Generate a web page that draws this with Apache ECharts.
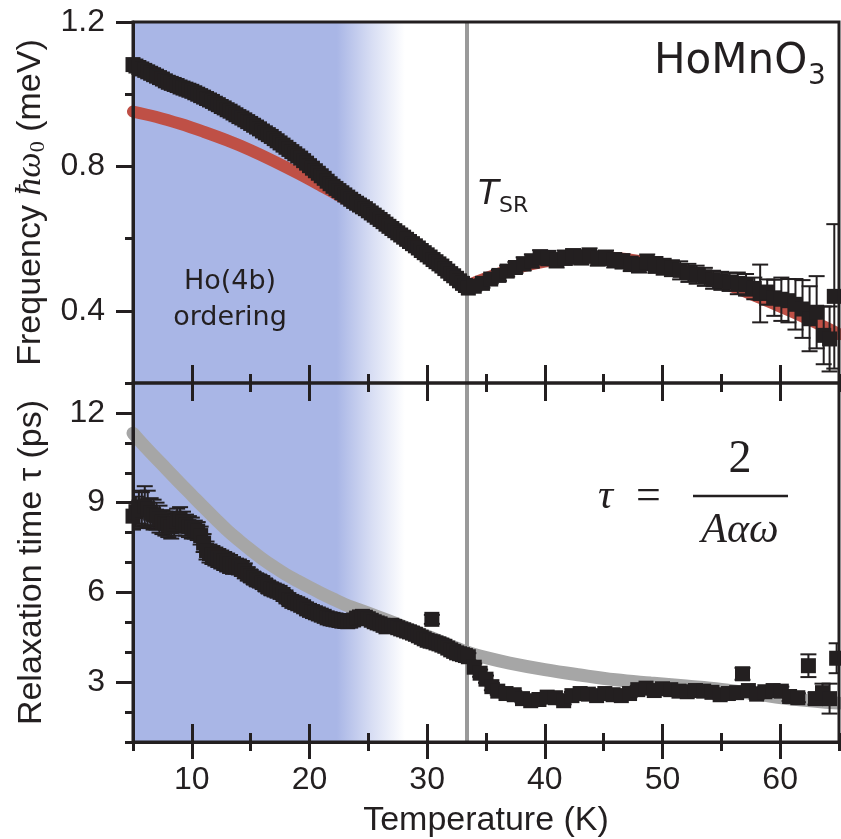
<!DOCTYPE html>
<html>
<head>
<meta charset="utf-8">
<title>HoMnO3 frequency and relaxation time</title>
<script src="https://cdn.jsdelivr.net/npm/echarts@6/dist/echarts.min.js"></script>
<style>
  html, body { margin: 0; padding: 0; background: #fff; }
  #chart { width: 841px; height: 839px; }
</style>
</head>
<body>
<div id="chart"></div>
<script>
// ---- axis ticks ----
var tempTicks = [10, 20, 30, 40, 50, 60]
var tempMinorTicks = [5, 15, 25, 35, 45, 55, 65]
var freqTicks = [0.4, 0.8, 1.2]
var freqMinorTicks = [0.2, 0.6, 1.0]
var tauTicks = [3, 6, 9, 12]
var tauMinorTicks = [1, 2, 4, 5, 7, 8, 10, 11, 13]

// spin reorientation temperature and Ho(4b) ordering region (K)
var tSR = 33.4
var orderingFrom = 5
var orderingTo = 28.1

// ---- top panel: frequency (meV) ----
var freqTemp = [
  5.00, 5.25, 5.50, 5.75, 6.00, 6.25, 6.50, 6.75, 7.00, 7.25, 7.50, 7.75, 8.00, 8.25, 8.50, 8.75,
  9.00, 9.25, 9.50, 9.75, 10.00, 10.25, 10.50, 10.75, 11.00, 11.25, 11.50, 11.75, 12.00, 12.25, 12.50, 12.75,
  13.00, 13.25, 13.50, 13.75, 14.00, 14.25, 14.50, 14.75, 15.00, 15.25, 15.50, 15.75, 16.00, 16.25, 16.50, 16.75,
  17.00, 17.25, 17.50, 17.75, 18.00, 18.25, 18.50, 18.75, 19.00, 19.25, 19.50, 19.75, 20.00, 20.25, 20.50, 20.75,
  21.00, 21.25, 21.50, 21.75, 22.00, 22.25, 22.50, 22.75, 23.00, 23.25, 23.50, 23.75, 24.00, 24.25, 24.50, 24.75,
  25.00, 25.25, 25.50, 25.75, 26.00, 26.25, 26.50, 26.75, 27.00, 27.25, 27.50, 27.75, 28.00, 28.25, 28.50, 28.75,
  29.00, 29.25, 29.50, 29.75, 30.00, 30.25, 30.50, 30.75, 31.00, 31.25, 31.50, 31.75, 32.00, 32.25, 32.50, 32.75,
  33.00, 33.25, 33.50,
  34.0, 34.7, 35.4, 36.1, 36.8, 37.5, 38.2, 38.9, 39.6, 40.3, 41.0, 41.7, 42.4, 43.1, 43.8, 44.5,
  45.2, 45.9, 46.6, 47.3, 48.0, 48.7, 49.4, 50.1, 50.8, 51.5, 52.2, 52.9, 53.6, 54.3, 55.0, 55.7,
  56.4, 57.1, 57.8, 58.3, 58.9, 59.5, 60.1, 60.7, 61.3, 61.9, 62.5, 63.1, 63.7, 64.2, 64.6]
var freqVal = [
  1.082, 1.078, 1.074, 1.070, 1.066, 1.062, 1.058, 1.054, 1.050, 1.046, 1.042, 1.037, 1.033, 1.030, 1.027, 1.024,
  1.020, 1.017, 1.014, 1.011, 1.008, 1.004, 1.000, 0.996, 0.992, 0.988, 0.984, 0.980, 0.975, 0.971, 0.966, 0.962,
  0.957, 0.953, 0.948, 0.943, 0.938, 0.934, 0.929, 0.924, 0.919, 0.914, 0.909, 0.904, 0.898, 0.893, 0.888, 0.883,
  0.877, 0.871, 0.865, 0.859, 0.853, 0.847, 0.841, 0.835, 0.829, 0.823, 0.816, 0.809, 0.802, 0.795, 0.788, 0.781,
  0.774, 0.767, 0.759, 0.752, 0.745, 0.739, 0.733, 0.727, 0.721, 0.715, 0.709, 0.703, 0.698, 0.693, 0.688, 0.683,
  0.677, 0.671, 0.665, 0.659, 0.653, 0.647, 0.640, 0.634, 0.628, 0.622, 0.616, 0.610, 0.604, 0.598, 0.592, 0.586,
  0.580, 0.574, 0.567, 0.561, 0.555, 0.549, 0.542, 0.536, 0.530, 0.524, 0.517, 0.510, 0.503, 0.497, 0.490, 0.483,
  0.476, 0.470, 0.463,
  0.468, 0.476, 0.488, 0.498, 0.510, 0.520, 0.530, 0.538, 0.548, 0.546, 0.540, 0.547, 0.551, 0.548, 0.553, 0.545,
  0.547, 0.540, 0.537, 0.530, 0.526, 0.534, 0.527, 0.522, 0.518, 0.512, 0.505, 0.500, 0.494, 0.486, 0.483, 0.480,
  0.476, 0.472, 0.462, 0.448, 0.452, 0.436, 0.432, 0.428, 0.418, 0.405, 0.378, 0.396, 0.332, 0.322, 0.440]
var freqErr = [
  0.008, 0.008, 0.008, 0.008, 0.008, 0.008, 0.008, 0.008, 0.008, 0.008, 0.008, 0.008, 0.008, 0.008, 0.008, 0.008,
  0.008, 0.008, 0.008, 0.008, 0.008, 0.008, 0.008, 0.008, 0.008, 0.008, 0.008, 0.008, 0.008, 0.008, 0.008, 0.008,
  0.008, 0.008, 0.008, 0.008, 0.008, 0.008, 0.008, 0.008, 0.008, 0.008, 0.008, 0.008, 0.008, 0.008, 0.008, 0.008,
  0.008, 0.008, 0.008, 0.008, 0.008, 0.008, 0.008, 0.008, 0.008, 0.008, 0.008, 0.008, 0.008, 0.008, 0.008, 0.008,
  0.008, 0.008, 0.008, 0.008, 0.008, 0.008, 0.008, 0.008, 0.008, 0.008, 0.008, 0.008, 0.008, 0.008, 0.008, 0.008,
  0.008, 0.008, 0.008, 0.008, 0.008, 0.008, 0.008, 0.008, 0.008, 0.008, 0.008, 0.008, 0.008, 0.008, 0.008, 0.008,
  0.008, 0.008, 0.008, 0.008, 0.008, 0.008, 0.008, 0.008, 0.008, 0.008, 0.008, 0.008, 0.008, 0.008, 0.008, 0.008,
  0.010, 0.010, 0.010,
  0.012, 0.012, 0.012, 0.015, 0.015, 0.015, 0.018, 0.018, 0.020, 0.020, 0.020, 0.020, 0.020, 0.020, 0.020, 0.020,
  0.020, 0.020, 0.020, 0.020, 0.020, 0.022, 0.022, 0.022, 0.022, 0.025, 0.025, 0.025, 0.025, 0.025, 0.025, 0.025,
  0.030, 0.030, 0.030, 0.080, 0.035, 0.050, 0.060, 0.060, 0.070, 0.080, 0.090, 0.100, 0.080, 0.090, 0.200]

// fit (red band), below and above T_SR
var freqFitLowTemp = [5, 7, 9, 11, 13, 15, 17, 19, 21, 23, 25, 27, 29, 31, 33.4]
var freqFitLowVal = [0.952, 0.937, 0.918, 0.896, 0.872, 0.845, 0.814, 0.781, 0.746, 0.710, 0.672, 0.630, 0.585, 0.535, 0.470]
var freqFitHighTemp = [33.4, 36, 38, 40, 42, 44, 46, 48, 50, 52, 54, 56, 58, 60, 62, 64, 65]
var freqFitHighVal = [0.470, 0.502, 0.522, 0.536, 0.545, 0.548, 0.546, 0.538, 0.526, 0.510, 0.490, 0.466, 0.440, 0.412, 0.383, 0.352, 0.335]

// ---- bottom panel: relaxation time (ps) ----
var tauTemp = [
  5.00, 5.25, 5.50, 5.75, 6.00, 6.25, 6.50, 6.75, 7.00, 7.25, 7.50, 7.75, 8.00, 8.25, 8.50, 8.75,
  9.00, 9.25, 9.50, 9.75, 10.00, 10.25, 10.50, 10.75, 11.00, 11.25, 11.50, 11.75, 12.00, 12.25, 12.50, 12.75,
  13.00, 13.25, 13.50, 13.75, 14.00, 14.25, 14.50, 14.75, 15.00, 15.25, 15.50, 15.75, 16.00, 16.25, 16.50, 16.75,
  17.00, 17.25, 17.50, 17.75, 18.00, 18.25, 18.50, 18.75, 19.00, 19.25, 19.50, 19.75, 20.00, 20.25, 20.50, 20.75,
  21.00, 21.25, 21.50, 21.75, 22.00, 22.25, 22.50, 22.75, 23.00, 23.25, 23.50, 23.75, 24.00, 24.25, 24.50, 24.75,
  25.00, 25.25, 25.50, 25.75, 26.00, 26.25, 26.50, 26.75, 27.00, 27.25, 27.50, 27.75, 28.00, 28.25, 28.50, 28.75,
  29.00, 29.25, 29.50, 29.75, 30.00, 30.25, 30.40, 30.50, 30.75, 31.00, 31.25, 31.50, 31.75, 32.00, 32.25, 32.50,
  32.75, 33.00, 33.25, 33.50,
  34.0, 34.5, 35.0, 35.5, 36.0, 36.7, 37.4, 38.1, 38.8, 39.5, 40.2, 40.9, 41.6, 42.3, 43.0, 43.7,
  44.4, 45.1, 45.8, 46.5, 47.2, 47.9, 48.6, 49.3, 50.0, 50.7, 51.4, 52.1, 52.8, 53.5, 54.2, 54.9,
  55.6, 56.3, 56.8, 57.3, 58.0, 58.7, 59.4, 60.1, 60.8, 61.5, 62.4, 63.0, 63.6, 64.2, 64.8]
var tauVal = [
  8.55, 8.70, 8.85, 8.75, 8.90, 8.80, 8.65, 8.60, 8.55, 8.45, 8.35, 8.30, 8.25, 8.20, 8.30, 8.40,
  8.45, 8.35, 8.25, 8.20, 8.15, 8.10, 8.05, 7.90, 7.65, 7.40, 7.30, 7.25, 7.20, 7.15, 7.10, 7.05,
  7.00, 6.95, 6.90, 6.88, 6.85, 6.80, 6.72, 6.62, 6.55, 6.48, 6.42, 6.38, 6.33, 6.25, 6.18, 6.12,
  6.08, 6.04, 6.00, 5.93, 5.85, 5.76, 5.70, 5.66, 5.62, 5.57, 5.52, 5.45, 5.40, 5.36, 5.32, 5.28,
  5.24, 5.20, 5.15, 5.12, 5.10, 5.08, 5.06, 5.04, 5.03, 5.02, 5.04, 5.08, 5.14, 5.18, 5.20, 5.17,
  5.12, 5.07, 5.02, 4.98, 4.95, 4.90, 4.85, 4.88, 4.90, 4.86, 4.82, 4.78, 4.75, 4.71, 4.68, 4.64,
  4.60, 4.55, 4.50, 4.45, 4.40, 4.37, 5.10, 4.35, 4.31, 4.28, 4.24, 4.20, 4.14, 4.08, 4.03, 3.98,
  3.95, 3.92, 3.89, 3.85,
  3.50, 3.30, 3.10, 2.85, 2.70, 2.62, 2.58, 2.45, 2.38, 2.42, 2.50, 2.48, 2.38, 2.55, 2.62, 2.60,
  2.55, 2.62, 2.58, 2.55, 2.62, 2.75, 2.80, 2.72, 2.78, 2.75, 2.70, 2.68, 2.72, 2.70, 2.66, 2.58,
  2.62, 2.65, 3.28, 2.72, 2.60, 2.68, 2.72, 2.70, 2.52, 2.48, 3.55, 2.45, 2.65, 2.45, 3.80]
var tauErr = [
  0.45, 0.50, 0.55, 0.60, 0.65, 0.60, 0.50, 0.50, 0.45, 0.45, 0.40, 0.40, 0.40, 0.40, 0.40, 0.40,
  0.40, 0.35, 0.35, 0.35, 0.35, 0.30, 0.30, 0.30, 0.30, 0.30, 0.30, 0.30, 0.30, 0.30, 0.30, 0.30,
  0.30, 0.30, 0.28, 0.25, 0.25, 0.25, 0.25, 0.22, 0.20, 0.20, 0.20, 0.20, 0.20, 0.20, 0.20, 0.20,
  0.18, 0.18, 0.15, 0.15, 0.15, 0.15, 0.15, 0.15, 0.15, 0.15, 0.15, 0.15, 0.12, 0.12, 0.12, 0.12,
  0.12, 0.12, 0.12, 0.12, 0.10, 0.10, 0.10, 0.10, 0.10, 0.10, 0.10, 0.10, 0.10, 0.10, 0.10, 0.10,
  0.10, 0.10, 0.10, 0.12, 0.12, 0.15, 0.15, 0.15, 0.15, 0.15, 0.15, 0.12, 0.12, 0.12, 0.12, 0.12,
  0.12, 0.12, 0.12, 0.12, 0.12, 0.12, 0.15, 0.12, 0.12, 0.12, 0.12, 0.12, 0.12, 0.12, 0.12, 0.12,
  0.12, 0.12, 0.12, 0.12,
  0.12, 0.12, 0.12, 0.12, 0.12, 0.12, 0.12, 0.12, 0.12, 0.12, 0.12, 0.12, 0.12, 0.12, 0.12, 0.12,
  0.12, 0.12, 0.12, 0.12, 0.12, 0.12, 0.12, 0.12, 0.12, 0.12, 0.12, 0.12, 0.12, 0.12, 0.12, 0.12,
  0.12, 0.12, 0.20, 0.12, 0.15, 0.15, 0.15, 0.15, 0.15, 0.15, 0.38, 0.20, 0.30, 0.50, 0.50]

// tau = 2 / (A alpha omega) (grey band)
var tauFitTemp = [5, 6, 7, 8, 9, 10, 11, 12, 13, 14, 15, 16, 17, 18, 19, 20, 21, 22, 23, 24, 26, 28, 30, 32, 33.4,
  35, 37, 40, 43, 46, 49, 52, 55, 58, 61, 65]
var tauFitVal = [11.32, 10.88, 10.47, 10.06, 9.65, 9.25, 8.85, 8.46, 8.08, 7.74, 7.42, 7.12, 6.85, 6.60, 6.38, 6.17,
  5.97, 5.78, 5.60, 5.45, 5.16, 4.86, 4.54, 4.22, 4.00,
  3.82, 3.64, 3.42, 3.24, 3.08, 2.97, 2.87, 2.76, 2.60, 2.44, 2.30]

var ink = '#231f20'
var sans = 'Liberation Sans'

function pairs(xs, ys) {
  return xs.map(function (x, i) { return [x, ys[i]] })
}

function errorBars(xIdx, yIdx, xs, ys, es) {
  return {
    type: 'custom',
    xAxisIndex: xIdx,
    yAxisIndex: yIdx,
    z: 4,
    silent: true,
    clip: true,
    data: xs.map(function (x, i) { return [x, ys[i] - es[i], ys[i] + es[i]] }),
    encode: { x: 0, y: [1, 2] },
    renderItem: function (params, api) {
      var lo = api.coord([api.value(0), api.value(1)])
      var hi = api.coord([api.value(0), api.value(2)])
      var hw = 8
      var st = { stroke: ink, lineWidth: 2 }
      return {
        type: 'group',
        children: [
          { type: 'line', shape: { x1: lo[0], y1: lo[1], x2: hi[0], y2: hi[1] }, style: st },
          { type: 'line', shape: { x1: lo[0] - hw, y1: lo[1], x2: lo[0] + hw, y2: lo[1] }, style: st },
          { type: 'line', shape: { x1: hi[0] - hw, y1: hi[1], x2: hi[0] + hw, y2: hi[1] }, style: st }
        ]
      }
    }
  }
}

// one x axis = one set of ticks; several stacked to get crossing major/minor ticks
function tempAxis(grid, pos, ticks, len, inside, extra) {
  var ax = {
    type: 'value', gridIndex: grid, position: pos, min: 5, max: 65, z: 10,
    splitLine: { show: false },
    axisLine: { show: false },
    axisLabel: { show: false },
    axisTick: { show: true, inside: inside, length: len, customValues: ticks,
      lineStyle: { color: ink, width: 3 } }
  }
  return Object.assign(ax, extra || {})
}

function valueAxis(grid, min, max, ticks, len, extra) {
  var ax = {
    type: 'value', gridIndex: grid, position: 'left', min: min, max: max, z: 10,
    splitLine: { show: false },
    axisLine: { show: false },
    axisLabel: { show: false },
    axisTick: { show: true, inside: false, length: len, customValues: ticks,
      lineStyle: { color: ink, width: 3 } }
  }
  return Object.assign(ax, extra || {})
}

var labelStyle = { show: true, color: ink, fontFamily: sans, fontSize: 32 }

var chart = echarts.init(document.getElementById('chart'))

var orderingFill = new echarts.graphic.LinearGradient(0, 0, 1, 0, [
  { offset: 0, color: 'rgba(169,182,230,1)' },
  { offset: 0.75, color: 'rgba(169,182,230,1)' },
  { offset: 0.88, color: 'rgba(169,182,230,0.45)' },
  { offset: 1, color: 'rgba(169,182,230,0)' }
])

function backdrop(xIdx, yIdx) {
  return {
    type: 'line', xAxisIndex: xIdx, yAxisIndex: yIdx, data: [], z: 1, silent: true,
    markArea: {
      silent: true,
      itemStyle: { color: orderingFill },
      data: [[{ xAxis: orderingFrom }, { xAxis: orderingTo }]]
    },
    markLine: {
      silent: true, symbol: 'none',
      label: { show: false },
      lineStyle: { color: '#9a9a9a', width: 4, type: 'solid' },
      data: [{ xAxis: tSR }]
    }
  }
}

function squares(xIdx, yIdx, xs, ys) {
  return {
    type: 'scatter', xAxisIndex: xIdx, yAxisIndex: yIdx, z: 5, silent: true, clip: true,
    data: pairs(xs, ys), symbol: 'rect', symbolSize: 15, large: false,
    itemStyle: { color: ink, opacity: 1, borderWidth: 0, borderColor: ink },
    emphasis: { disabled: true }
  }
}

chart.setOption({
  animation: false,
  backgroundColor: '#fff',
  grid: [
    { left: 133, top: 22, width: 706, height: 361, show: true, z: 10,
      borderColor: ink, borderWidth: 3, backgroundColor: 'transparent' },
    { left: 133, top: 383, width: 706, height: 360, show: true, z: 10,
      borderColor: ink, borderWidth: 3, backgroundColor: 'transparent' }
  ],
  xAxis: [
    tempAxis(0, 'bottom', tempTicks, 18, true),
    tempAxis(0, 'bottom', tempMinorTicks, 9, true),
    tempAxis(1, 'top', tempTicks, 18, true),
    tempAxis(1, 'top', tempMinorTicks, 9, true),
    tempAxis(1, 'bottom', tempTicks, 17, false, {
      axisLine: { show: true, lineStyle: { color: ink, width: 3 } },
      axisLabel: Object.assign({ margin: 22, customValues: tempTicks }, labelStyle),
      name: 'Temperature (K)', nameLocation: 'middle', nameGap: 62,
      nameTextStyle: { color: ink, fontFamily: sans, fontSize: 34 }
    }),
    tempAxis(1, 'bottom', tempMinorTicks, 9, false),
    tempAxis(1, 'bottom', tempTicks, 18, true),
    tempAxis(1, 'bottom', tempMinorTicks, 9, true)
  ],
  yAxis: [
    valueAxis(0, 0.2, 1.2, freqTicks, 17, {
      axisLine: { show: true, lineStyle: { color: ink, width: 3 } },
      axisLabel: Object.assign({ margin: 28, customValues: freqTicks,
        formatter: function (v) { return v.toFixed(1) } }, labelStyle),
      name: 'Frequency {i|ħω}{s|0} (meV)', nameLocation: 'middle', nameGap: 84,
      nameTextStyle: { color: ink, fontFamily: sans, fontSize: 34,
        rich: {
          i: { fontFamily: 'Liberation Serif', fontStyle: 'italic', fontSize: 36, color: ink },
          s: { fontFamily: 'Liberation Serif', fontSize: 22, color: ink, verticalAlign: 'bottom', lineHeight: 30 }
        }
      }
    }),
    valueAxis(0, 0.2, 1.2, freqMinorTicks, 8),
    valueAxis(1, 1, 13, tauTicks, 17, {
      axisLine: { show: true, lineStyle: { color: ink, width: 3 } },
      axisLabel: Object.assign({ margin: 28, customValues: tauTicks }, labelStyle),
      name: 'Relaxation time τ (ps)', nameLocation: 'middle', nameGap: 84,
      nameTextStyle: { color: ink, fontFamily: sans, fontSize: 34 }
    }),
    valueAxis(1, 1, 13, tauMinorTicks, 8)
  ],
  series: [
    backdrop(0, 0),
    backdrop(4, 2),
    {
      type: 'line', xAxisIndex: 0, yAxisIndex: 0, z: 2, silent: true,
      data: pairs(freqFitLowTemp, freqFitLowVal), showSymbol: false, smooth: 0.4,
      lineStyle: { color: '#bf5046', width: 12, cap: 'round' }
    },
    {
      type: 'line', xAxisIndex: 0, yAxisIndex: 0, z: 2, silent: true,
      data: pairs(freqFitHighTemp, freqFitHighVal), showSymbol: false, smooth: 0.4,
      lineStyle: { color: '#bf5046', width: 12, cap: 'round' }
    },
    errorBars(0, 0, freqTemp, freqVal, freqErr),
    squares(0, 0, freqTemp, freqVal),
    {
      type: 'line', xAxisIndex: 4, yAxisIndex: 2, z: 2, silent: true,
      data: pairs(tauFitTemp, tauFitVal), showSymbol: false, smooth: 0.4,
      lineStyle: { color: '#a6a6a6', width: 13, cap: 'round' }
    },
    errorBars(4, 2, tauTemp, tauVal, tauErr),
    squares(4, 2, tauTemp, tauVal)
  ],
  graphic: [
    { type: 'text', x: 654, y: 62, z: 20, style: { text: 'HoMnO', fill: ink, fontFamily: 'DejaVu Sans', fontSize: 42, verticalAlign: 'middle' } },
    { type: 'text', x: 808, y: 77, z: 20, style: { text: '3', fill: ink, fontFamily: 'DejaVu Sans', fontSize: 28, verticalAlign: 'middle' } },
    { type: 'text', x: 478, y: 195, z: 20, style: { text: 'T', fill: ink, fontFamily: 'DejaVu Sans', fontStyle: 'italic', fontSize: 34, verticalAlign: 'middle' } },
    { type: 'text', x: 499, y: 206, z: 20, style: { text: 'SR', fill: ink, fontFamily: 'DejaVu Sans', fontSize: 22, verticalAlign: 'middle' } },
    { type: 'text', x: 230, y: 282, z: 20, style: { text: 'Ho(4b)', fill: ink, fontFamily: 'DejaVu Sans', fontSize: 27, align: 'center', verticalAlign: 'middle' } },
    { type: 'text', x: 230, y: 318, z: 20, style: { text: 'ordering', fill: ink, fontFamily: 'DejaVu Sans', fontSize: 27, align: 'center', verticalAlign: 'middle' } },
    { type: 'text', x: 598, y: 497, z: 20, style: { text: 'τ', fill: ink, fontFamily: 'Liberation Serif', fontStyle: 'italic', fontSize: 42, verticalAlign: 'middle' } },
    { type: 'text', x: 636, y: 497, z: 20, style: { text: '=', fill: ink, fontFamily: 'Liberation Serif', fontSize: 44, verticalAlign: 'middle' } },
    { type: 'text', x: 740, y: 460, z: 20, style: { text: '2', fill: ink, fontFamily: 'Liberation Serif', fontSize: 46, align: 'center', verticalAlign: 'middle' } },
    { type: 'line', z: 20, shape: { x1: 693, y1: 496, x2: 788, y2: 496 }, style: { stroke: ink, lineWidth: 2.5 } },
    { type: 'text', x: 740, y: 531, z: 20, style: { text: 'Aαω', fill: ink, fontFamily: 'Liberation Serif', fontStyle: 'italic', fontSize: 42, align: 'center', verticalAlign: 'middle' } }
  ]
})
</script>
</body>
</html>
